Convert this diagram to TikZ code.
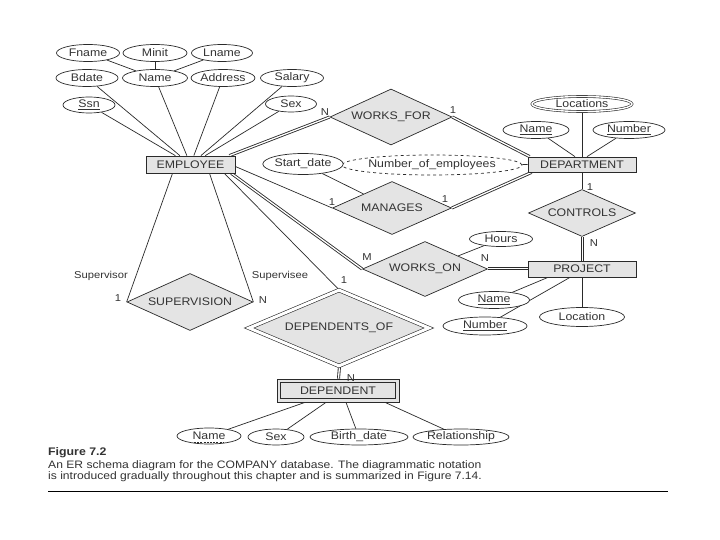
\documentclass[tikz,border=0pt]{standalone}
\usepackage{fontspec}
\setmainfont{Liberation Sans}[FakeStretch=1.12]
\usetikzlibrary{shapes.geometric, positioning, backgrounds}
\definecolor{erfill}{HTML}{E4E4E4}
\definecolor{erline}{HTML}{2A2A2A}
\definecolor{ertext}{HTML}{333333}

\begin{document}
\begin{tikzpicture}[
  x=1pt, y=-1pt,
  every node/.style={font=\fontsize{11}{12}\selectfont, text=ertext},
  entity/.style={rectangle, draw=erline, line width=0.75pt, fill=erfill, minimum width=108pt, minimum height=16pt, inner sep=0pt},
  relation/.style={diamond, draw=erline, line width=0.7pt, fill=erfill, inner sep=0pt, aspect=2.2},
  attr/.style={ellipse, draw=erline, line width=0.7pt, fill=white, minimum height=17pt, inner sep=0pt},
  multiattr/.style={attr, double, double distance=1.4pt, line width=0.6pt},
  derivedattr/.style={attr, dashed},
  link/.style={draw=erline, line width=0.7pt},
  total/.style={draw=erline, line width=0.85pt, double, double distance=1.3pt},
  card/.style={font=\fontsize{10}{11}\selectfont},
]

% Employee and its attributes
\node[entity, minimum width=89pt, minimum height=17pt] (emp) at (190.5, 164.5) {EMPLOYEE};
\node[attr, minimum width=63pt] (fname) at (88, 53) {Fname};
\node[attr, minimum width=64pt] (minit) at (155, 53) {Minit};
\node[attr, minimum width=61pt] (lname) at (222, 53) {Lname};
\node[attr, minimum width=62pt] (bdate) at (87, 78) {Bdate};
\node[attr, minimum width=65pt] (ename) at (155, 78) {Name};
\node[attr, minimum width=63pt] (address) at (223, 78) {Address};
\node[attr, minimum width=63pt] (salary) at (292, 78) {Salary};
\node[attr, minimum width=52pt, minimum height=16pt] (ssn) at (89, 105) {\underline{Ssn}};
\node[attr, minimum width=51pt, minimum height=16pt] (esex) at (291, 104) {Sex};

% Department and its attributes
\node[entity, minimum height=15pt] (dept) at (582, 164.5) {DEPARTMENT};
\node[multiattr, minimum width=100pt, minimum height=15pt] (locations) at (582, 104) {Locations};
\node[attr, minimum width=66pt] (dname) at (536, 130) {\underline{Name}};
\node[attr, minimum width=72pt] (dnumber) at (629, 130) {\underline{Number}};
\node[derivedattr, minimum width=145pt, minimum height=20pt] (numemp) at (432, 165) {Number\_of\_employees};

% Project and its attributes
\node[entity] (project) at (582, 269) {PROJECT};
\node[attr, minimum width=71pt] (pname) at (494, 300) {\underline{Name}};
\node[attr, minimum width=84pt, minimum height=18pt] (pnumber) at (485, 326) {\underline{Number}};
\node[attr, minimum width=85pt, minimum height=19pt] (plocation) at (582, 317) {Location};

% Dependent and its attributes
\node[entity, minimum width=122pt, minimum height=23pt] (dependent) at (338, 390.5) {};
\node[entity, minimum width=115pt, minimum height=16pt] (dependentin) at (dependent.center) {DEPENDENT};
\node[attr, minimum width=64pt, minimum height=16pt] (depname) at (209, 436) {Name};
\draw[erline, line width=0.6pt, dash pattern=on 2pt off 1.2pt] ([xshift=-15pt, yshift=-2.4pt]depname.base) -- ([xshift=15pt, yshift=-2.4pt]depname.base);
\node[attr, minimum width=56pt, minimum height=16pt] (depsex) at (276, 437) {Sex};
\node[attr, minimum width=98pt, minimum height=16pt] (birthdate) at (359, 437) {Birth\_date};
\node[attr, minimum width=96pt, minimum height=16pt] (relationship) at (461, 437) {Relationship};

% Relationships
\node[relation, minimum width=122pt, minimum height=56pt] (worksfor) at (391, 117) {WORKS\_FOR};
\node[relation, minimum width=119pt, minimum height=53pt] (manages) at (392, 208) {MANAGES};
\node[attr, minimum width=68pt, minimum height=21pt] (startdate) at (303, 164) {Start\_date};
\node[relation, minimum width=107pt, minimum height=47pt] (ctrlrel) at (582, 213) {CONTROLS};
\node[relation, minimum width=125pt, minimum height=55pt] (workson) at (425, 269) {WORKS\_ON};
\node[attr, minimum width=63pt, minimum height=15pt] (hours) at (501, 239) {Hours};
\node[relation, minimum width=126pt, minimum height=57pt] (superv) at (190, 302) {SUPERVISION};
\node[relation, double, double distance=3pt, line width=0.6pt, minimum width=180pt, minimum height=76pt, aspect=2.3] (depof) at (339, 328) {DEPENDENTS\_OF};

% Cardinalities and roles
\node[card] (cwfn) at (325, 112) {N};
\node[card] (cwf1) at (453, 110) {1};
\node[card] (cman1) at (332, 202) {1};
\node[card] (cman2) at (445, 199) {1};
\node[card] (cctl1) at (590, 187) {1};
\node[card] (cctln) at (594, 243) {N};
\node[card] (cwom) at (367, 257) {M};
\node[card] (cwon) at (485, 258) {N};
\node[card] (rsupr) at (101, 276) {Supervisor};
\node[card] (csup1) at (118, 298) {1};
\node[card] (rsupe) at (280, 276) {Supervisee};
\node[card] (csupn) at (263, 300) {N};
\node[card] (cdep1) at (344, 280) {1};
\node[card] (cdepn) at (351, 378) {N};

% Caption
\node[anchor=west, inner sep=0pt, font=\fontsize{11}{12}\selectfont\bfseries] (figlabel) at (48, 453) {Figure 7.2};
\node[anchor=north west, align=left, inner sep=0pt, font=\fontsize{10.8}{11.8}\selectfont] (figtext) at (48, 460)
  {An ER schema diagram for the COMPANY database. The diagrammatic notation\\
   is introduced gradually throughout this chapter and is summarized in Figure 7.14.};

% Connectors
\begin{scope}[on background layer]
\fill[white] (0, 0) rectangle (720, 540);
\draw[link] (fname) -- (ename);
\draw[link] (minit) -- (ename);
\draw[link] (lname) -- (ename);
\foreach \a in {bdate, ename, address, salary, ssn, esex}
  \draw[link] (\a) -- (emp);

\draw[total] ([xshift=-6pt]emp.north east) -- (worksfor.west);
\draw[total] (worksfor.east) -- ([xshift=2pt]dept.north west);
\draw[link] ([yshift=-2pt]emp.east) -- (manages.west);
\draw[total] (manages.east) -- ([xshift=4pt]dept.south west);
\draw[link] (startdate) -- (manages);
\draw[link] (numemp) -- (dept.west);
\draw[link] (locations) -- (dept.north);
\draw[link] (dname) -- ([xshift=-7pt]dept.north);
\draw[link] (dnumber) -- ([xshift=5pt]dept.north);

\draw[link] (dept.south) -- (ctrlrel.north);
\draw[total] ([xshift=0.5pt]ctrlrel.south) -- ([xshift=0.5pt]project.north);
\draw[total] ([xshift=-4pt]emp.south east) -- (workson.west);
\draw[total] ([yshift=0.5pt]workson.east) -- ([yshift=0.5pt]project.west);
\draw[link] (hours) -- (workson);
\draw[link] (pname) -- ([xshift=-34pt]project.south);
\draw[link] (pnumber) -- ([xshift=-12pt]project.south);
\draw[link] (plocation) -- (project.south);

\draw[link] ([xshift=-18pt]emp.south) -- (superv.west);
\draw[link] ([xshift=19pt]emp.south) -- (superv.east);
\draw[link] ([xshift=-11pt]emp.south east) -- (depof.north);
\draw[total] ([xshift=0.5pt]depof.south) -- ([xshift=0.5pt]dependent.north);

\draw[link] (depname) -- ([xshift=-33pt]dependent.south);
\draw[link] (depsex) -- ([xshift=-12pt]dependent.south);
\draw[link] (birthdate) -- ([xshift=8pt]dependent.south);
\draw[link] (relationship) -- ([xshift=47pt]dependent.south);

\draw[line width=1pt, black] (48, 491) -- (668, 491);
\end{scope}

\useasboundingbox (0, 0) rectangle (720, 540);
\end{tikzpicture}
\end{document}
